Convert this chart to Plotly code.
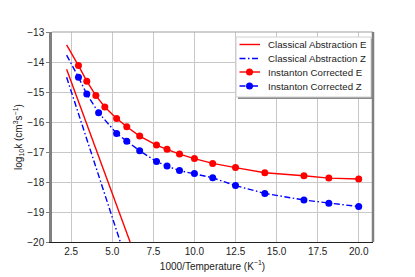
import plotly.graph_objects as go

# Instanton corrected rates (x = 1000/T)
inst_E_x = [2.22, 2.941, 3.448, 4.0, 4.545, 5.263, 5.882, 6.667, 7.692, 8.333, 9.091, 10.0, 11.111, 12.5, 14.286, 16.667, 18.182, 20.0]
inst_E_y = [-13.43, -14.12, -14.64, -15.12, -15.50, -15.88, -16.16, -16.47, -16.77, -16.91, -17.07, -17.22, -17.38, -17.52, -17.69, -17.79, -17.87, -17.90]

inst_Z_x = [2.22, 2.941, 3.448, 4.167, 5.263, 5.882, 6.667, 7.692, 8.333, 9.091, 10.0, 11.111, 12.5, 14.286, 16.667, 18.182, 20.0]
inst_Z_y = [-13.77, -14.51, -15.07, -15.69, -16.38, -16.64, -16.96, -17.32, -17.47, -17.62, -17.72, -17.86, -18.12, -18.38, -18.60, -18.71, -18.82]

# Classical abstraction rates (straight Arrhenius lines)
class_E_x = [2.22, 6.5]
class_E_y = [-14.24, -20.62]
class_Z_x = [2.22, 6.0]
class_Z_y = [-14.51, -20.86]

x_ticks = [2.5, 5.0, 7.5, 10.0, 12.5, 15.0, 17.5, 20.0]
y_ticks = [-20, -19, -18, -17, -16, -15, -14, -13]

legend_names = ["Classical Abstraction E", "Classical Abstraction Z",
                "Instanton Corrected E", "Instanton Corrected Z"]

RED = "#ff0000"
BLUE = "#0000ff"
DASHDOT = "6px,2.5px,1.5px,2.5px"
FONT = "Liberation Sans, Arial, sans-serif"
LW = 1.4

fig = go.Figure()
fig.add_trace(go.Scatter(x=class_E_x, y=class_E_y, mode="lines", name=legend_names[0],
                         line=dict(color=RED, width=LW)))
fig.add_trace(go.Scatter(x=class_Z_x, y=class_Z_y, mode="lines", name=legend_names[1],
                         line=dict(color=BLUE, width=LW, dash=DASHDOT)))
# first segments (no marker at first point)
fig.add_trace(go.Scatter(x=inst_E_x[:2], y=inst_E_y[:2], mode="lines", showlegend=False,
                         line=dict(color=RED, width=LW)))
fig.add_trace(go.Scatter(x=inst_Z_x[:2], y=inst_Z_y[:2], mode="lines", showlegend=False,
                         line=dict(color=BLUE, width=LW, dash=DASHDOT)))
fig.add_trace(go.Scatter(x=inst_E_x[1:], y=inst_E_y[1:], mode="lines+markers", name=legend_names[2],
                         line=dict(color=RED, width=LW), marker=dict(color=RED, size=7)))
fig.add_trace(go.Scatter(x=inst_Z_x[1:], y=inst_Z_y[1:], mode="lines+markers", name=legend_names[3],
                         line=dict(color=BLUE, width=LW, dash=DASHDOT), marker=dict(color=BLUE, size=7)))

L, R, T, B = 52, 42, 32, 35
W, H = 415, 277
pw, ph = W - L - R, H - T - B

def px2paper_x(px):
    return (px - L) / pw

def px2paper_y(py):
    return 1 - (py - T) / ph

# ---- legend box (drawn by hand to match compact spacing) ----
lg_x0, lg_x1, lg_y0, lg_y1 = 236, 371, 37, 97
fig.add_shape(type="rect", xref="paper", yref="paper",
              x0=px2paper_x(lg_x0 + 2), x1=px2paper_x(lg_x1 + 2),
              y0=px2paper_y(lg_y1 + 2), y1=px2paper_y(lg_y0 + 2),
              fillcolor="#8c8c8c", line=dict(width=0), layer="above")
fig.add_shape(type="rect", xref="paper", yref="paper",
              x0=px2paper_x(lg_x0), x1=px2paper_x(lg_x1),
              y0=px2paper_y(lg_y1), y1=px2paper_y(lg_y0),
              fillcolor="white", line=dict(color="#d0d0d0", width=1), layer="above")

item_y = [44.5, 58.5, 72, 86]
item_color = [RED, BLUE, RED, BLUE]
item_dash = ["solid", DASHDOT, "solid", DASHDOT]
item_marker = [False, False, True, True]
for name, yy, col, dsh, mk in zip(legend_names, item_y, item_color, item_dash, item_marker):
    fig.add_shape(type="line", xref="paper", yref="paper",
                  x0=px2paper_x(239.5), x1=px2paper_x(260), y0=px2paper_y(yy), y1=px2paper_y(yy),
                  line=dict(color=col, width=LW, dash=dsh), layer="above")
    if mk:
        fig.add_shape(type="circle", xref="paper", yref="paper",
                      xsizemode="pixel", ysizemode="pixel",
                      xanchor=px2paper_x(249.5), yanchor=px2paper_y(yy),
                      x0=-3.5, x1=3.5, y0=-3.5, y1=3.5,
                      fillcolor=col, line=dict(width=0), layer="above")
    fig.add_annotation(xref="paper", yref="paper", x=px2paper_x(266), y=px2paper_y(yy),
                       xanchor="left", yanchor="middle", text=name, showarrow=False,
                       font=dict(family=FONT, size=9.7, color="#222222"))

# top and right spines
fig.add_shape(type="line", xref="paper", yref="paper", x0=0, x1=1, y0=1, y1=1,
              line=dict(color="#a0a0a0", width=1.2), layer="above")
fig.add_shape(type="line", xref="paper", yref="paper", x0=1, x1=1, y0=0, y1=1,
              line=dict(color="#808080", width=2.5), layer="above")

fig.update_layout(
    width=W, height=H,
    margin=dict(l=L, r=R, t=T, b=B, autoexpand=False),
    paper_bgcolor="white", plot_bgcolor="white",
    font=dict(family=FONT, size=10, color="#222222"),
    showlegend=False,
    xaxis=dict(range=[1.33, 20.87], tickvals=x_ticks, ticktext=[f"{v:.1f}" for v in x_ticks],
               showgrid=True, gridcolor="#c8c8c8", gridwidth=1, zeroline=False,
               showline=True, linecolor="#222222", linewidth=1, ticks="",
               automargin=False,
               title=dict(text="1000/Temperature (K<sup>−1</sup>)", font=dict(size=10), standoff=6),
               tickfont=dict(size=10)),
    yaxis=dict(range=[-20, -13], tickvals=y_ticks, ticktext=[f"−{abs(v)}" for v in y_ticks],
               showgrid=True, gridcolor="#c8c8c8", gridwidth=1, zeroline=False,
               showline=True, linecolor="#808080", linewidth=2.5, ticks="outside", ticklen=3,
               tickcolor="#808080", automargin=False,
               title=dict(text="log<sub>10</sub>k (cm<sup>3</sup>s<sup>−1</sup>)", font=dict(size=10), standoff=3),
               tickfont=dict(size=10)),
)

fig.write_html("out.html", post_script="document.body.style.margin='0';",
               config={"displayModeBar": False})
